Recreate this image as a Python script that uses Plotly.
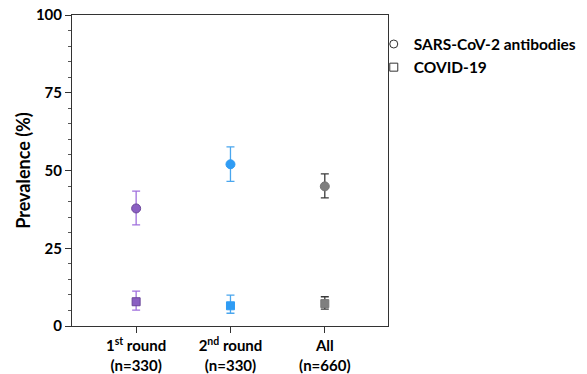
import plotly.graph_objects as go

categories = ["1<sup>st</sup> round<br>(n=330)", "2<sup>nd</sup> round<br>(n=330)", "All<br>(n=660)"]
antibody_values = [37.8, 52.0, 44.9]
antibody_upper = [43.4, 57.6, 48.9]
antibody_lower = [32.5, 46.5, 41.2]
covid_values = [7.8, 6.5, 7.2]
covid_upper = [11.2, 9.9, 9.4]
covid_lower = [5.1, 4.1, 5.4]
y_ticks = [0, 25, 50, 75, 100]

marker_fill = ["#8a5fc2", "#2f9cf4", "#7f7f7f"]
marker_line = ["#6a4699", "#2f9cf4", "#777777"]
err_color = ["#a070dd", "#4aa6ee", "#3a3a3a"]

font = "Lato, 'Open Sans', sans-serif"
fig = go.Figure()

for i, cat in enumerate(categories):
    fig.add_trace(go.Scatter(
        x=[i], y=[antibody_values[i]], mode="markers", showlegend=False,
        marker=dict(symbol="circle", size=9, color=marker_fill[i],
                    line=dict(color=marker_line[i], width=1)),
        error_y=dict(type="data", symmetric=False,
                     array=[antibody_upper[i] - antibody_values[i]],
                     arrayminus=[antibody_values[i] - antibody_lower[i]],
                     color=err_color[i], thickness=1.3, width=4)))
    fig.add_trace(go.Scatter(
        x=[i], y=[covid_values[i]], mode="markers", showlegend=False,
        marker=dict(symbol="square", size=8, color=marker_fill[i],
                    line=dict(color=marker_line[i], width=1)),
        error_y=dict(type="data", symmetric=False,
                     array=[covid_upper[i] - covid_values[i]],
                     arrayminus=[covid_values[i] - covid_lower[i]],
                     color=err_color[i], thickness=1.3, width=4)))

fig.add_trace(go.Scatter(x=[None], y=[None], mode="markers", name="SARS-CoV-2 antibodies",
                         marker=dict(symbol="circle-open", size=8, color="#333333", line=dict(width=1))))
fig.add_trace(go.Scatter(x=[None], y=[None], mode="markers", name="COVID-19",
                         marker=dict(symbol="square-open", size=8, color="#333333", line=dict(width=1))))

fig.update_layout(
    width=587, height=374,
    margin=dict(l=72, r=199, t=15, b=48, autoexpand=False),
    plot_bgcolor="white", paper_bgcolor="white",
    font=dict(family=font, color="black", size=14),
    legend=dict(x=0.955, y=0.96, xanchor="left", yanchor="top",
                font=dict(size=15.5, weight="bold", family=font),
                itemwidth=30, tracegroupgap=0, bgcolor="rgba(0,0,0,0)"),
    xaxis=dict(range=[-0.68, 2.67], tickmode="array", tickvals=[0, 1, 2], ticktext=categories,
               showgrid=False, zeroline=False, showline=True, linecolor="#333333", linewidth=1,
               mirror=True, ticks="outside", ticklen=6, tickcolor="#333333", automargin=False,
               tickfont=dict(size=15, weight="bold", family=font)),
    yaxis=dict(range=[0, 100], tickvals=y_ticks, showgrid=False, zeroline=False,
               showline=True, linecolor="#333333", linewidth=1, mirror=True,
               ticks="outside", ticklen=6, tickcolor="#333333", automargin=False,
               minor=dict(dtick=5, ticks="outside", ticklen=3, tickcolor="#555555"),
               tickfont=dict(size=15, weight="bold", family=font),
               title=dict(text="Prevalence (%)", font=dict(size=18, weight="bold", family=font),
                          standoff=0)),
)

fig.write_html("out.html", config={"displayModeBar": False},
               post_script="document.body.style.margin='0';document.body.style.overflow='hidden';")
